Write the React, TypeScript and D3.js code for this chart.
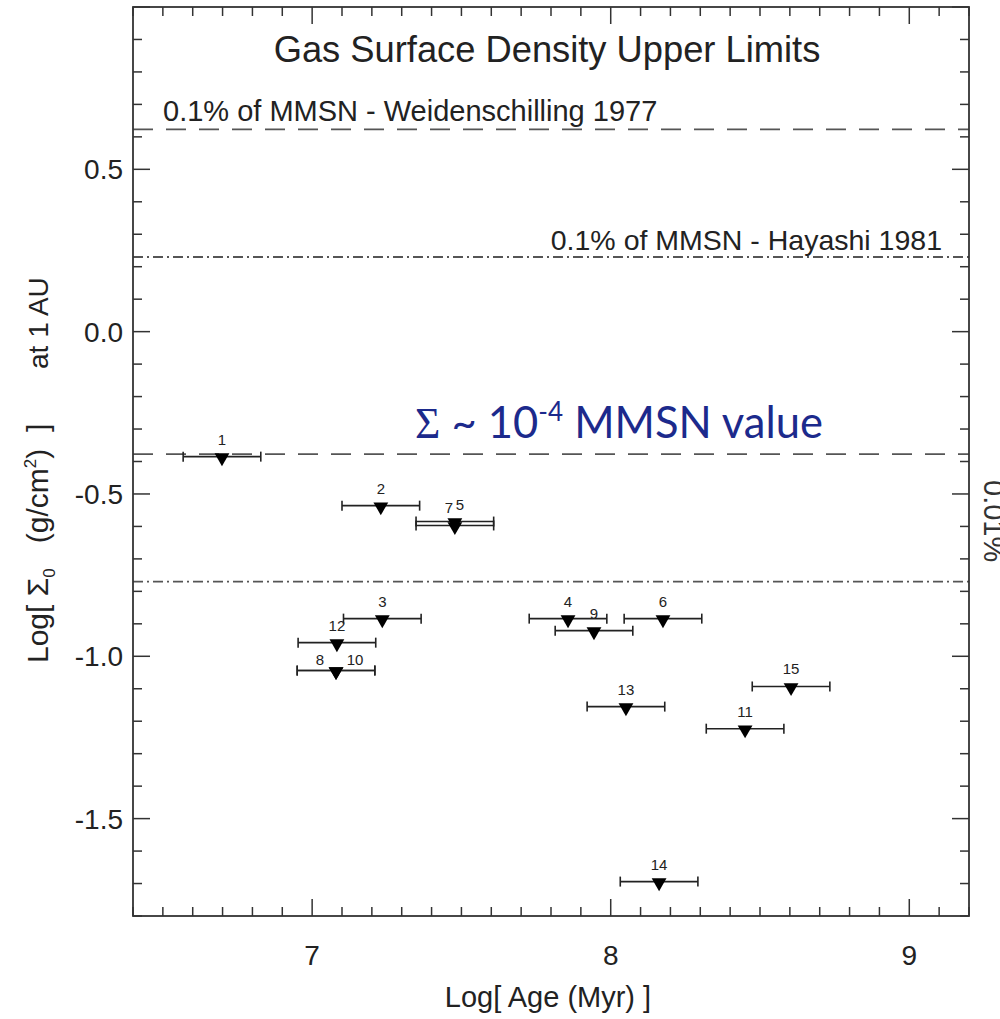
import React, { useEffect } from "react";
import * as d3 from "d3";

// ---- data ----
const pointIds = [1, 2, 3, 4, 5, 6, 7, 8, 9, 10, 11, 12, 13, 14, 15];
const logAge = [6.698, 7.23, 7.235, 7.857, 7.478, 8.175, 7.478, 7.08, 7.944, 7.08, 8.45, 7.083, 8.051, 8.162, 8.604];
const logSigma = [-0.385, -0.536, -0.884, -0.884, -0.585, -0.884, -0.597, -1.044, -0.921, -1.044, -1.223, -0.958, -1.155, -1.694, -1.093];
const ageErr = [0.13, 0.13, 0.13, 0.13, 0.13, 0.13, 0.13, 0.13, 0.13, 0.13, 0.13, 0.13, 0.13, 0.13, 0.13];

const xTicksMajor = [7, 8, 9];
const yTicksMajor = [0.5, 0.0, -0.5, -1.0, -1.5];
const yTickLabels = ["0.5", "0.0", "-0.5", "-1.0", "-1.5"];

const refLineValues = [0.623, 0.23, -0.377, -0.77];
const refLineKinds = ["dash", "dashdot", "dash", "dashdot"];

const titleText = "Gas Surface Density Upper Limits";
const weidLabel = "0.1% of MMSN - Weidenschilling 1977";
const hayLabel = "0.1% of MMSN - Hayashi 1981";

// label placement tweaks (style only)
const labelShift: Record<number, [number, number]> = {
  7: [-6, 0],
  5: [5, 0],
  8: [-16, 6],
  10: [19, 6],
};

const W = 1000;
const H = 1019;
const L = 133, R = 969, T = 7, B = 916;
const FONT = "Liberation Sans, Arimo, Helvetica, Arial, Roboto, sans-serif";

export default function App() {
  useEffect(() => {
    document.body.style.margin = "0";
  }, []);

  const x = d3.scaleLinear().domain([6.4, 9.2]).range([L, R]);
  const y = d3.scaleLinear().domain([-1.8, 1.0]).range([B, T]);

  const xMinor = d3.range(64, 93).map((v) => v / 10);
  const yMinor = d3.range(-18, 11).map((v) => v / 10);
  const isMajorX = (v: number) => Math.abs(v - Math.round(v)) < 1e-6;
  const isMajorY = (v: number) => Math.abs(v * 2 - Math.round(v * 2)) < 1e-6;

  const axisColor = "#333";
  const majorLen = 17, minorLen = 9;
  const ts = { fontFamily: FONT };

  const tri = d3.symbol().type(d3.symbolTriangle);

  return (
    <svg width={W} height={H} style={{ display: "block", position: "absolute", left: 0, top: 0, background: "#fff", fontFamily: FONT }}>
      <rect x={0} y={0} width={W} height={H} fill="#fff" />
      {/* reference lines */}
      {refLineValues.map((v, i) => (
        <line key={"ref" + i} x1={L} x2={R} y1={y(v)} y2={y(v)} stroke="#555" strokeWidth={1.8}
          strokeDasharray={refLineKinds[i] === "dash" ? "20,13" : "10,4,2,4"} />
      ))}
      {/* frame */}
      <rect x={L} y={T} width={R - L} height={B - T} fill="none" stroke={axisColor} strokeWidth={1.8} />
      {/* x ticks bottom & top */}
      {xMinor.map((v, i) => {
        const len = isMajorX(v) ? majorLen : minorLen;
        const px = x(v);
        return (
          <g key={"xt" + i}>
            <line x1={px} x2={px} y1={B} y2={B - len} stroke={axisColor} strokeWidth={1.5} />
            <line x1={px} x2={px} y1={T} y2={T + len} stroke={axisColor} strokeWidth={1.5} />
          </g>
        );
      })}
      {/* y ticks left & right */}
      {yMinor.map((v, i) => {
        const len = isMajorY(v) ? majorLen : minorLen;
        const py = y(v);
        return (
          <g key={"yt" + i}>
            <line x1={L} x2={L + len} y1={py} y2={py} stroke={axisColor} strokeWidth={1.5} />
            <line x1={R} x2={R - len} y1={py} y2={py} stroke={axisColor} strokeWidth={1.5} />
          </g>
        );
      })}
      {/* tick labels */}
      {xTicksMajor.map((v) => (
        <text key={"xl" + v} x={x(v)} y={965} textAnchor="middle" fontSize={28} fill="#222" style={ts}>{String(v)}</text>
      ))}
      {yTicksMajor.map((v, i) => (
        <text key={"yl" + i} x={123} y={y(v) + 10} textAnchor="end" fontSize={28} fill="#222" style={ts}>{yTickLabels[i]}</text>
      ))}
      {/* axis titles */}
      <text x={548} y={1007} textAnchor="middle" fontSize={29} fill="#222" style={ts}>Log[ Age (Myr) ]</text>
      <g transform="translate(48,663) rotate(-90)">
        <text x={0} y={0} fontSize={30} fill="#222" style={{ ...ts, whiteSpace: "pre" }}>
          <tspan>Log[ Σ</tspan>
          <tspan fontSize={17} dy={7}>0</tspan>
          <tspan dy={-7}>{"   (g/cm"}</tspan>
          <tspan fontSize={17} dy={-12}>2</tspan>
          <tspan dy={12}>{")  ]"}</tspan>
        </text>
      </g>
      <g transform="translate(48,369) rotate(-90)">
        <text x={0} y={0} fontSize={28} fill="#222" style={ts}>at 1 AU</text>
      </g>
      {/* title & line labels */}
      <text x={547} y={62} textAnchor="middle" fontSize={36.3} fill="#222" style={ts}>{titleText}</text>
      <text x={163} y={121} fontSize={29} fill="#222" style={ts}>{weidLabel}</text>
      <text x={942} y={250} textAnchor="end" fontSize={28.5} fill="#222" style={ts}>{hayLabel}</text>
      <g transform="translate(984,480) rotate(90)">
        <text x={0} y={0} fontSize={29} fill="#333" style={ts}>0.01%</text>
      </g>
      {/* annotation */}
      <text x={415} y={438} fontSize={43.5} fill="#1c2a8c" style={{ fontFamily: "Lato, 'Open Sans', sans-serif" }}>
        <tspan style={{ fontFamily: "Liberation Serif, 'DejaVu Serif', serif" }}>Σ</tspan>
        <tspan>{" ~ 10"}</tspan>
        <tspan fontSize={26} dy={-17}>-4</tspan>
        <tspan dy={17}>{" MMSN value"}</tspan>
      </text>
      {/* data */}
      {pointIds.map((id, i) => {
        const cx = x(logAge[i]);
        const cy = y(logSigma[i]);
        const x0 = x(logAge[i] - ageErr[i]);
        const x1 = x(logAge[i] + ageErr[i]);
        const sh = labelShift[id] || [0, 0];
        return (
          <g key={"p" + id}>
            <line x1={x0} x2={x1} y1={cy} y2={cy} stroke="#222" strokeWidth={1.6} />
            <line x1={x0} x2={x0} y1={cy - 5} y2={cy + 5} stroke="#222" strokeWidth={1.6} />
            <line x1={x1} x2={x1} y1={cy - 5} y2={cy + 5} stroke="#222" strokeWidth={1.6} />
            <path d={tri.size(95)() || ""} transform={`translate(${cx},${cy + 1}) rotate(180)`} fill="#000" />
            <text x={cx + sh[0]} y={cy - 12 + sh[1]} textAnchor="middle" fontSize={15} fill="#222" style={ts}>{String(id)}</text>
          </g>
        );
      })}
    </svg>
  );
}
